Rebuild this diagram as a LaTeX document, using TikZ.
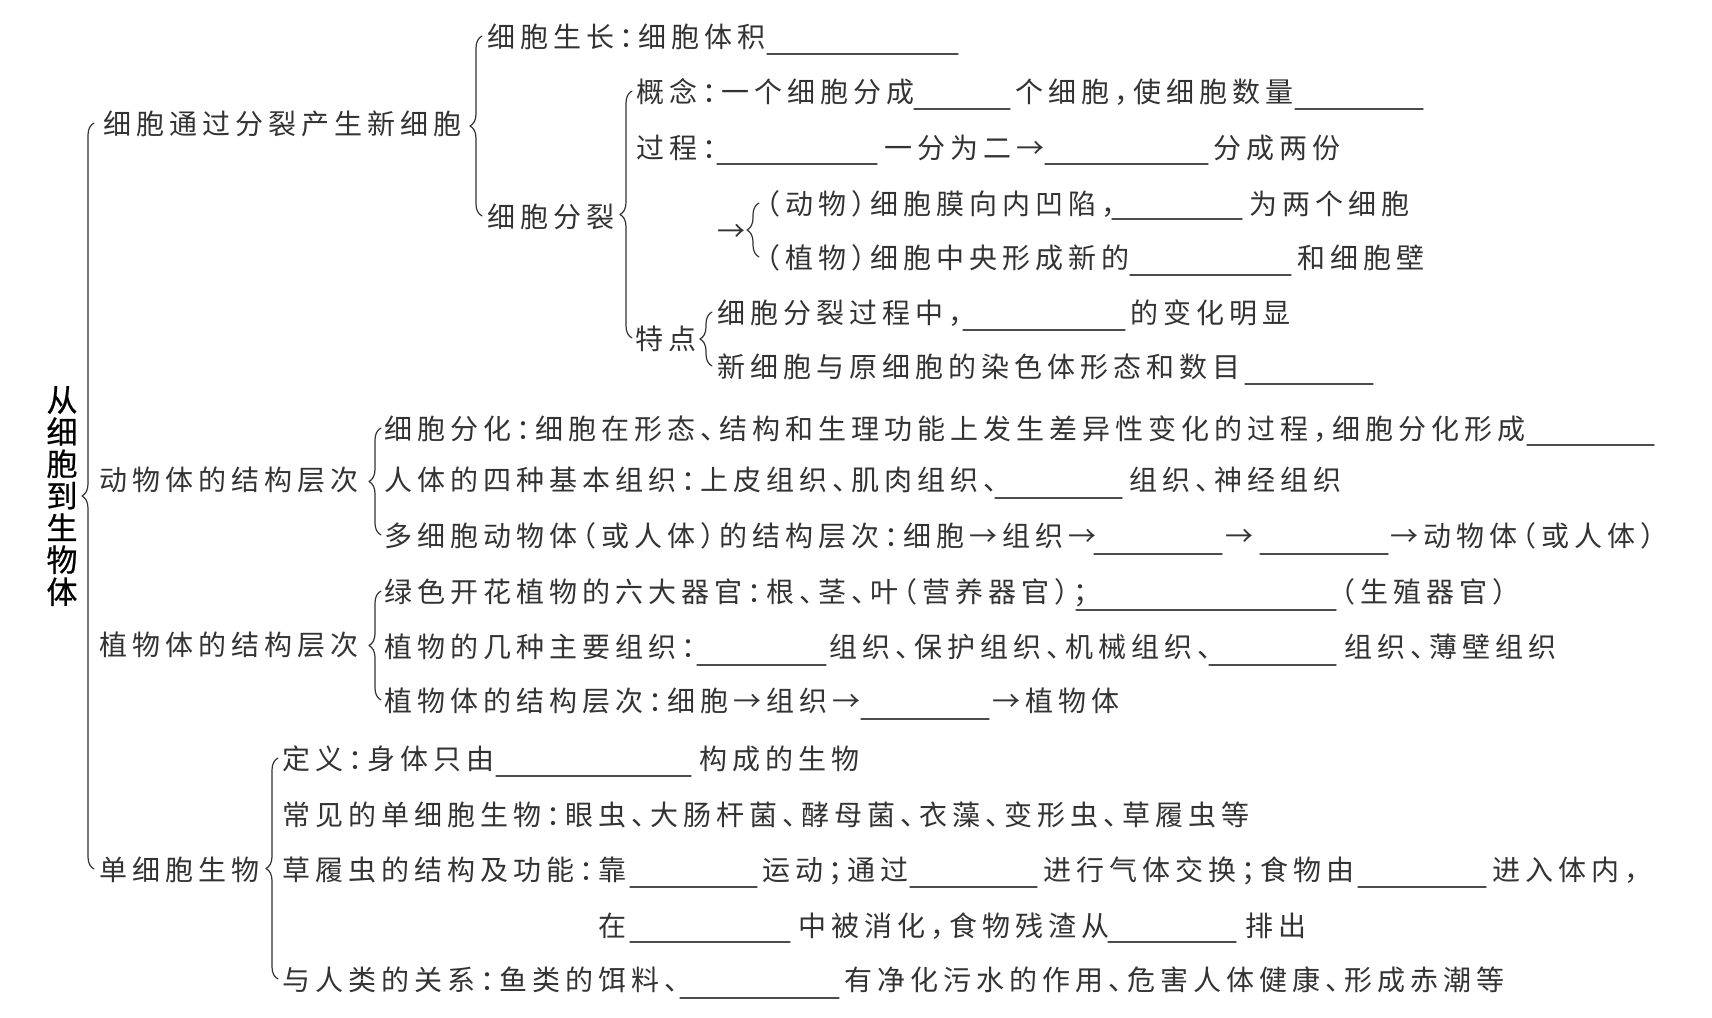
\documentclass[tikz,border=0pt]{standalone}
\usepackage{fontspec}
\newfontfamily\cjk[LetterSpace=17.9,RawFeature=+halt]{Noto Sans CJK SC}
\newfontfamily\cjkroot[FakeBold=0.6]{Noto Sans CJK SC}
\usetikzlibrary{decorations.pathreplacing}

\begin{document}
\begin{tikzpicture}[
    x=1pt,
    y=-1pt,
    line cap=round,
    line join=round,
    every node/.style={inner sep=0pt, text=black!80},
    txt/.style={anchor=west, text height=22pt, text depth=0pt,
        font=\cjk\fontsize{28}{28}\selectfont},
    blank/.style={line width=1.3pt, black!70},
    lbrace/.style={decorate, decoration={brace, mirror, amplitude=12pt},
        line width=1.2pt, black!80}
]

% =========================================================
% 画布
% =========================================================

\fill[white] (0,0) rectangle (1712,1017);
\useasboundingbox (0,0) rectangle (1712,1017);

% 填空横线
\def\blank#1#2#3{\draw[blank] (#1,#3) -- (#2,#3);}

% =========================================================
% 总标题
% =========================================================

\node[font=\cjkroot\fontsize{31}{32}\selectfont, align=center, text=black]
    (root) at (62,496) {从\\细\\胞\\到\\生\\物\\体};

% =========================================================
% 第一级
% =========================================================

\node[txt] (n1) at (103,123) {细胞通过分裂产生新细胞};
\node[txt] (n2) at (99,479)  {动物体的结构层次};
\node[txt] (n3) at (99,644)  {植物体的结构层次};
\node[txt] (n4) at (99,869)  {单细胞生物};

\draw[lbrace] ([xshift=-5pt]n2.west |- n1.west) -- ([xshift=-5pt]n2.west |- n4.west);

% =========================================================
% 细胞通过分裂产生新细胞
% =========================================================

\node[txt] (grow)  at (487,36)  {细胞生长：细胞体积};
\node[txt] (split) at (487,216) {细胞分裂};

\draw[lbrace] ([xshift=-5pt]grow.west) -- ([xshift=-5pt]grow.west |- split.west);

\blank{767}{958}{54}

% 细胞分裂
\node[txt] (idea)  at (636,91)   {概念：一个细胞分成};
\node[txt] (idea2) at (1015,91)  {个细胞，使细胞数量};
\node[txt] (proc)  at (636,147)  {过程：};
\node[txt] (proc2) at (884,147)  {一分为二→};
\node[txt] (proc3) at (1213,147) {分成两份};
\node[txt] (feat)  at (635,338)  {特点};

\draw[lbrace] ([xshift=-4pt]idea.west) -- ([xshift=-4pt]idea.west |- feat.west);

\blank{914}{1010}{109}
\blank{1295}{1423}{109}
\blank{717}{877}{164}
\blank{1045}{1208}{164}

% 动物与植物细胞的分裂
\node[txt] (arr)  at (717,230)  {→};
\node[txt] (ani)  at (766,203)  {（动物）细胞膜向内凹陷，};
\node[txt] (ani2) at (1249,203) {为两个细胞};
\node[txt] (pla)  at (766,257)  {（植物）细胞中央形成新的};
\node[txt] (pla2) at (1297,257) {和细胞壁};

\draw[lbrace] ([xshift=-7pt]ani.west) -- ([xshift=-7pt]ani.west |- pla.west);

\blank{1112}{1242}{219}
\blank{1130}{1291}{275}

% 特点
\node[txt] (f1)  at (717,312)  {细胞分裂过程中，};
\node[txt] (f1b) at (1130,312) {的变化明显};
\node[txt] (f2)  at (717,366)  {新细胞与原细胞的染色体形态和数目};

\draw[lbrace] ([xshift=-5pt]f1.west) -- ([xshift=-5pt]f1.west |- f2.west);

\blank{963}{1125}{330}
\blank{1245}{1373}{384}

% =========================================================
% 动物体的结构层次
% =========================================================

\node[txt] (d1)  at (384,428)  {细胞分化：细胞在形态、结构和生理功能上发生差异性变化的过程，细胞分化形成};
\node[txt] (d2)  at (384,479)  {人体的四种基本组织：上皮组织、肌肉组织、};
\node[txt] (d2b) at (1129,479) {组织、神经组织};
\node[txt] (d3)  at (384,535)  {多细胞动物体（或人体）的结构层次：细胞→组织→};
\node[txt] (d3b) at (1225,535) {→};
\node[txt] (d3c) at (1390,535) {→动物体（或人体）};

\draw[lbrace] ([xshift=-3pt]d1.west) -- ([xshift=-3pt]d1.west |- d3.west);

\blank{1527}{1654}{445}
\blank{995}{1122}{498}
\blank{1094}{1222}{554}
\blank{1260}{1388}{554}

% =========================================================
% 植物体的结构层次
% =========================================================

\node[txt] (p1)  at (384,591)  {绿色开花植物的六大器官：根、茎、叶（营养器官）；};
\node[txt] (p1b) at (1341,591) {（生殖器官）};
\node[txt] (p2)  at (384,646)  {植物的几种主要组织：};
\node[txt] (p2b) at (829,646)  {组织、保护组织、机械组织、};
\node[txt] (p2c) at (1344,646) {组织、薄壁组织};
\node[txt] (p3)  at (384,700)  {植物体的结构层次：细胞→组织→};
\node[txt] (p3b) at (992,700)  {→植物体};

\draw[lbrace] ([xshift=-3pt]p1.west) -- ([xshift=-3pt]p1.west |- p3.west);

\blank{1076}{1336}{610}
\blank{697}{826}{665}
\blank{1209}{1336}{665}
\blank{861}{989}{719}

% =========================================================
% 单细胞生物
% =========================================================

\node[txt] (s1)  at (282,758)  {定义：身体只由};
\node[txt] (s1b) at (699,758)  {构成的生物};
\node[txt] (s2)  at (282,814)  {常见的单细胞生物：眼虫、大肠杆菌、酵母菌、衣藻、变形虫、草履虫等};
\node[txt] (s3)  at (282,869)  {草履虫的结构及功能：靠};
\node[txt] (s3b) at (762,869)  {运动；通过};
\node[txt] (s3c) at (1043,869) {进行气体交换；食物由};
\node[txt] (s3d) at (1492,869) {进入体内，};
\node[txt] (s4)  at (598,925)  {在};
\node[txt] (s4b) at (798,925)  {中被消化，食物残渣从};
\node[txt] (s4c) at (1245,925) {排出};
\node[txt] (s5)  at (282,979)  {与人类的关系：鱼类的饵料、};
\node[txt] (s5b) at (844,979)  {有净化污水的作用、危害人体健康、形成赤潮等};

\draw[lbrace] ([xshift=-4pt]s1.west) -- ([xshift=-4pt]s1.west |- s5.west);

\blank{496}{691}{776}
\blank{630}{757}{887}
\blank{910}{1037}{887}
\blank{1358}{1486}{887}
\blank{630}{790}{942}
\blank{1108}{1236}{942}
\blank{680}{839}{998}

\end{tikzpicture}
\end{document}
